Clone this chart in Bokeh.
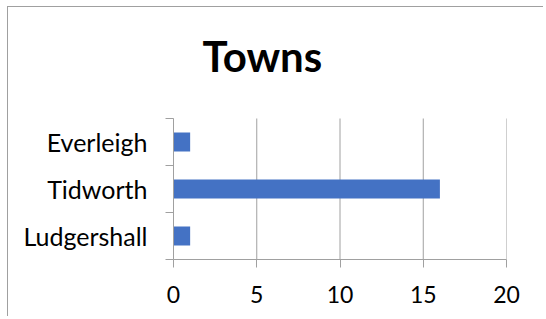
from bokeh.plotting import figure
from bokeh.models import ColumnDataSource, FixedTicker, Range1d, Label
from bokeh.embed import file_html
from bokeh.resources import INLINE

# Data
towns = ["Ludgershall", "Tidworth", "Everleigh"]
counts = [1, 16, 1]
x_ticks = [0, 5, 10, 15, 20]
title_text = "Towns"

GRAY = "#a0a0a0"
FONT = "Lato"

n = len(towns)
positions = [i + 0.5 for i in range(n)]
source = ColumnDataSource(data=dict(town=towns, count=counts, pos=positions))

# frame extends up to hold the title; categories occupy the lower 0..n band
p = figure(width=536, height=310, output_backend="svg", toolbar_location=None,
           x_range=Range1d(0, 20), y_range=Range1d(0, 239 / 47),
           min_border_left=165, min_border_right=38, min_border_top=13,
           min_border_bottom=58)

p.styles = {"border-left": f"1px solid {GRAY}", "border-top": f"1px solid {GRAY}",
            "margin-left": "7px", "margin-top": "6px"}

# vertical grid lines only across the category band
p.segment(x0=x_ticks, y0=[0] * len(x_ticks), x1=x_ticks, y1=[n] * len(x_ticks),
          line_color=GRAY, line_width=1)

p.hbar(y="pos", right="count", left=0, height=0.4, source=source,
       color="#4472C4", line_color=None)

title = Label(x=29, y=204, x_units="screen", y_units="screen", text=title_text,
              text_font=FONT, text_font_size="42px", text_font_style="bold",
              text_color="black", text_align="left", text_baseline="alphabetic")
p.add_layout(title)

p.outline_line_color = None
p.background_fill_color = "white"
p.border_fill_color = "white"
p.xgrid.visible = False
p.ygrid.visible = False

# x axis
p.xaxis.ticker = FixedTicker(ticks=x_ticks)
p.xaxis.axis_line_color = GRAY
p.xaxis.major_tick_line_color = GRAY
p.xaxis.major_tick_out = 8
p.xaxis.major_tick_in = 0
p.xaxis.minor_tick_line_color = None
p.xaxis.major_label_text_font = FONT
p.xaxis.major_label_text_font_size = "23px"
p.xaxis.major_label_text_color = "black"
p.xaxis.major_label_standoff = 18

# y axis
p.yaxis.bounds = (0, n)
p.yaxis.ticker = FixedTicker(ticks=positions, minor_ticks=list(range(n + 1)))
p.yaxis.major_label_overrides = {pos: t for pos, t in zip(positions, towns)}
p.yaxis.axis_line_color = GRAY
p.yaxis.major_tick_line_color = None
p.yaxis.major_tick_out = 0
p.yaxis.major_tick_in = 0
p.yaxis.minor_tick_line_color = GRAY
p.yaxis.minor_tick_out = 8
p.yaxis.minor_tick_in = 0
p.yaxis.major_label_text_font = FONT
p.yaxis.major_label_text_font_size = "25px"
p.yaxis.major_label_text_color = "black"
p.yaxis.major_label_standoff = 18

open("out.html", "w").write(file_html(p, INLINE))
